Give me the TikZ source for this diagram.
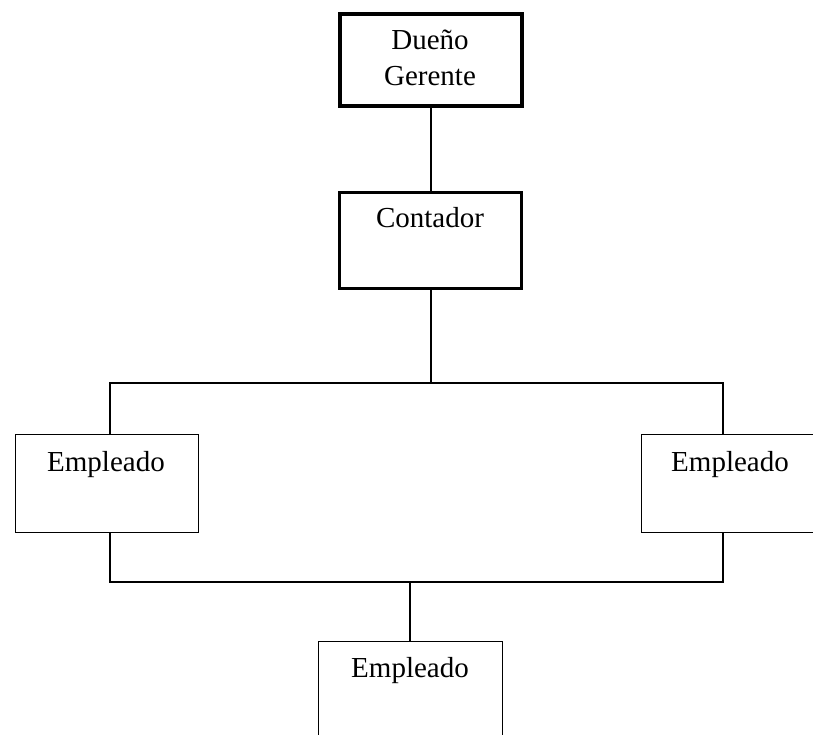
\documentclass[tikz,border=0pt]{standalone}
\usepackage{fontspec}
\setmainfont{Liberation Serif}
\begin{document}
\begin{tikzpicture}[x=1pt,y=-1pt,
  boxthick/.style={draw, line width=4pt, inner sep=0pt, anchor=north west},
  boxmid/.style={draw, line width=3pt, inner sep=0pt, anchor=north west},
  boxthin/.style={draw, line width=1pt, inner sep=0pt, anchor=north west},
  txt/.style={inner sep=0pt, font=\fontsize{29}{36}\selectfont, align=center},
  conn/.style={line width=2pt}]
\useasboundingbox (0,0) rectangle (813,735);
% boxes
\node[boxthick, minimum width=182pt, minimum height=92pt] (own) at (338,12) {};
\node[boxmid, minimum width=182pt, minimum height=95pt] (cont) at (338,191.5) {};
\node[boxthin, minimum width=183pt, minimum height=98pt] (left) at (14.5,433.5) {};
\node[boxthin, minimum width=183pt, minimum height=98pt] (right) at (640.5,433.5) {};
\node[boxthin, minimum width=184pt, minimum height=110pt] (bottom) at (317.5,640.5) {};
% texts
\node[txt] (town) at (430,58) {Dueño\\Gerente};
\node[txt, anchor=base] (tcont) at (430,228) {Contador};
\node[txt, anchor=base] (tleft) at (106,471) {Empleado};
\node[txt, anchor=base] (tright) at (730,471) {Empleado};
\node[txt, anchor=base] (tbottom) at (410,677) {Empleado};
% bus coordinates
\coordinate (busAl) at (110,383);
\coordinate (busAr) at (723,383);
\coordinate (busB) at (410,582);
\coordinate (busBl) at (110,582);
\coordinate (busBr) at (723,582);
% connectors
\draw[conn] (own.south) -- (own.south |- cont.north);
\draw[conn] (cont.south) -- (cont.south |- busAl);
\draw[conn] (busAl |- left.north) -- (busAl) -- (busAr) -- (busAr |- right.north);
\draw[conn] (busBl |- left.south) -- (busBl) -- (busBr) -- (busBr |- right.south);
\draw[conn] (busB) -- (busB |- bottom.north);
\end{tikzpicture}
\end{document}
